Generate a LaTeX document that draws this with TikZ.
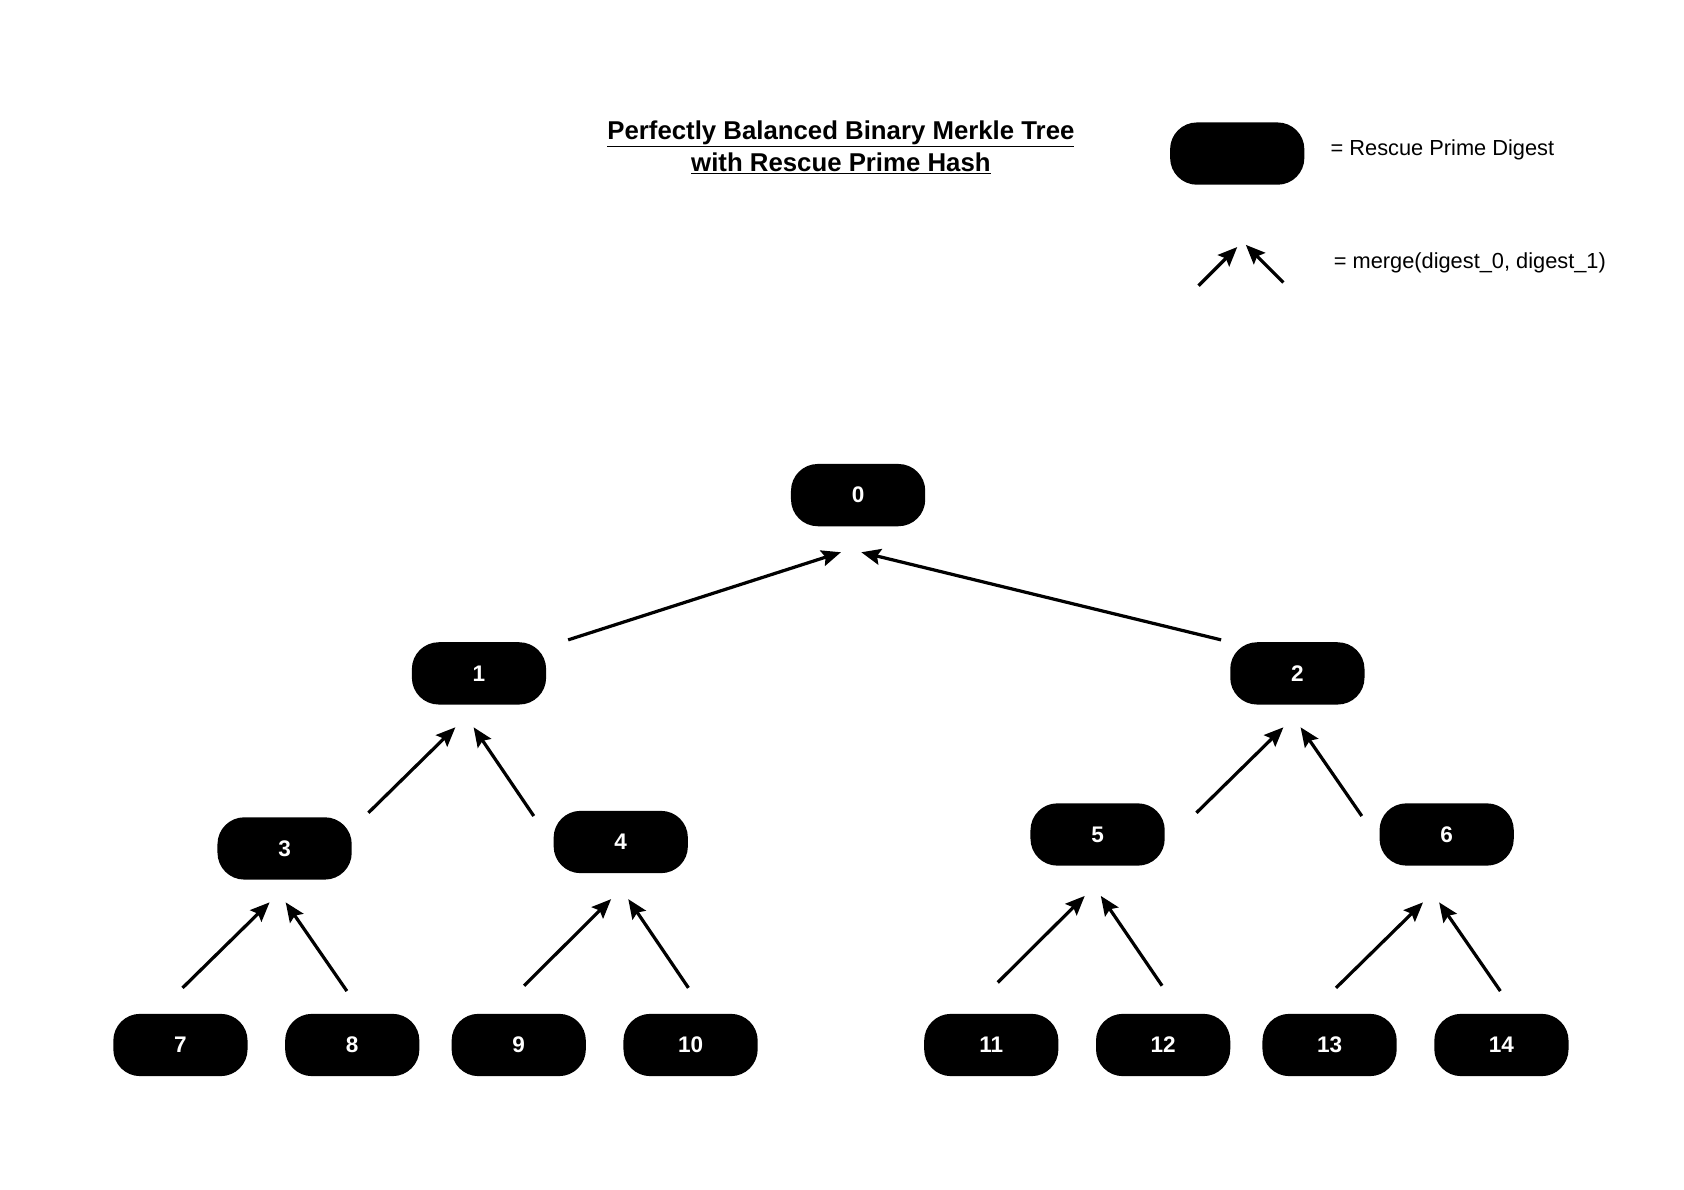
\documentclass[tikz,border=0pt]{standalone}
\usepackage{fontspec}
\setmainfont{Liberation Sans}
\usetikzlibrary{arrows.meta, calc}

\tikzset{
  digest/.style={fill=black, rounded corners=25pt, minimum width=125pt, minimum height=58pt, inner sep=0pt, text=white, font=\bfseries\fontsize{21}{25}\selectfont},
  merge/.style={line width=3pt, -{Stealth[length=18pt, width=15pt, inset=3pt]}},
  legendtext/.style={anchor=west, inner sep=0.75pt, font=\fontsize{20.3}{24}\selectfont}
}

\begin{document}
\begin{tikzpicture}[x=1pt, y=-1pt]
\useasboundingbox (0,0) rectangle (1568,1108);

\node (title) at (783,137) [align=center, font=\bfseries\fontsize{24}{30}\selectfont] {\underline{Perfectly Balanced Binary Merkle Tree}\\\underline{with Rescue Prime Hash}};

\node (key) at (1152,143) [digest] {};
\node (keytext) at (1238,140) [legendtext] {= Rescue Prime Digest};
\coordinate (m0) at (1116,266);
\coordinate (m0tip) at (1152,230);
\coordinate (m1) at (1195,263);
\coordinate (m1tip) at (1160,228);
\draw [merge] (m0) -- (m0tip);
\draw [merge] (m1) -- (m1tip);
\node (mergetext) at (1241,245) [legendtext] {= merge(digest\_0, digest\_1)};

\node (n0) at (799,461) [digest] {0};
\node (n1) at (446,627) [digest] {1};
\node (n2) at (1208,627) [digest] {2};
\node (n3) at (265,790) [digest] {3};
\node (n4) at (578,784) [digest] {4};
\node (n5) at (1022,777) [digest] {5};
\node (n6) at (1347,777) [digest] {6};
\node (n7) at (168,973) [digest] {7};
\node (n8) at (328,973) [digest] {8};
\node (n9) at (483,973) [digest] {9};
\node (n10) at (643,973) [digest] {10};
\node (n11) at (923,973) [digest] {11};
\node (n12) at (1083,973) [digest] {12};
\node (n13) at (1238,973) [digest] {13};
\node (n14) at (1398,973) [digest] {14};

\draw [merge] ($(n1.north)+(83,-2)$) -- ($(n0.south)+(-16,24)$);
\draw [merge] ($(n2.north)+(-71,-2)$) -- ($(n0.south)+(3,24)$);
\draw [merge] ($(n3.north)+(78,-4)$) -- ($(n1.south)+(-22,21)$);
\draw [merge] ($(n4.north)+(-81,5)$) -- ($(n1.south)+(-5,21)$);
\draw [merge] ($(n5.north)+(92,9)$) -- ($(n2.south)+(-13,21)$);
\draw [merge] ($(n6.north)+(-79,12)$) -- ($(n2.south)+(3,21)$);
\draw [merge] ($(n7.north)+(2,-24)$) -- ($(n3.south)+(-14,21)$);
\draw [merge] ($(n8.north)+(-5,-21)$) -- ($(n3.south)+(1,21)$);
\draw [merge] ($(n9.north)+(5,-26)$) -- ($(n4.south)+(-9,24)$);
\draw [merge] ($(n10.north)+(-2,-24)$) -- ($(n4.south)+(7,24)$);
\draw [merge] ($(n11.north)+(6,-29)$) -- ($(n5.south)+(-12,28)$);
\draw [merge] ($(n12.north)+(-1,-26)$) -- ($(n5.south)+(3,28)$);
\draw [merge] ($(n13.north)+(6,-24)$) -- ($(n6.south)+(-22,34)$);
\draw [merge] ($(n14.north)+(-1,-21)$) -- ($(n6.south)+(-7,34)$);

\end{tikzpicture}
\end{document}
